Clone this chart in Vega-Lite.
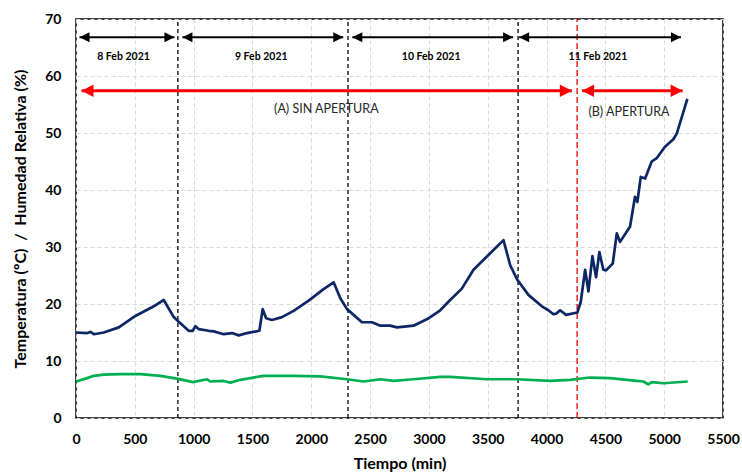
{
  "$schema": "https://vega.github.io/schema/vega-lite/v6.json",
  "width": 647,
  "height": 399,
  "autosize": {"type": "none"},
  "padding": {"left": 76, "top": 19, "right": 19, "bottom": 56},
  "background": "white",
  "config": {"view": {"stroke": "#000", "strokeWidth": 1.5}, "font": "Lato"},
  "encoding": {
    "x": {
      "field": "t", "type": "quantitative",
      "scale": {"domain": [0, 5500], "nice": false, "zero": false},
      "axis": {
        "values": [0, 500, 1000, 1500, 2000, 2500, 3000, 3500, 4000, 4500, 5000, 5500], "format": "d",
        "title": "Tiempo (min)", "grid": true, "gridColor": "#d9d9d9", "gridDash": [4, 3], "gridWidth": 1,
        "ticks": false, "domain": false, "labelFlush": false,
        "labelFont": "Lato", "labelFontWeight": "bold", "labelFontSize": 14, "labelColor": "#000", "labelPadding": 14,
        "titleFont": "Lato", "titleFontSize": 16, "titleFontWeight": "bold", "titleColor": "#000",
        "titleX": 323.5, "titleY": 45, "titleBaseline": "middle"
      }
    },
    "y": {
      "field": "v", "type": "quantitative",
      "scale": {"domain": [0, 70], "nice": false, "zero": false},
      "axis": {
        "values": [0, 10, 20, 30, 40, 50, 60, 70], "format": "d",
        "title": "Temperatura (ºC) \u00a0/ \u00a0Humedad Relativa (%)", "grid": true, "gridColor": "#d9d9d9", "gridDash": [4, 3], "gridWidth": 1,
        "ticks": false, "domain": false, "labelFlush": false,
        "labelFont": "Lato", "labelFontWeight": "bold", "labelFontSize": 14, "labelColor": "#000", "labelPadding": 15,
        "titleFont": "Lato", "titleFontSize": 16, "titleFontWeight": "bold", "titleColor": "#000",
        "titleX": -56, "titleY": 199.5, "titleBaseline": "middle"
      }
    }
  },
  "layer": [
    {
      "data": {"values": [
        {"t": 866, "v": 0, "v2": 70},
        {"t": 2312, "v": 0, "v2": 70},
        {"t": 3758, "v": 0, "v2": 70}
      ]},
      "mark": {"type": "rule", "color": "#000", "strokeWidth": 1.3, "strokeDash": [4, 3]},
      "encoding": {"y2": {"field": "v2"}}
    },
    {
      "data": {"values": [{"t": 4260, "v": 0, "v2": 70}]},
      "mark": {"type": "rule", "color": "#e00000", "strokeWidth": 1.3, "strokeDash": [6, 3]},
      "encoding": {"y2": {"field": "v2"}}
    },
    {
      "data": {"values": [
        {"serie": "Humedad Relativa (%)", "t": 2, "v": 15.0},
        {"serie": "Humedad Relativa (%)", "t": 95, "v": 14.9},
        {"serie": "Humedad Relativa (%)", "t": 123, "v": 15.1},
        {"serie": "Humedad Relativa (%)", "t": 151, "v": 14.7},
        {"serie": "Humedad Relativa (%)", "t": 236, "v": 15.0},
        {"serie": "Humedad Relativa (%)", "t": 364, "v": 15.9},
        {"serie": "Humedad Relativa (%)", "t": 505, "v": 17.9},
        {"serie": "Humedad Relativa (%)", "t": 661, "v": 19.6},
        {"serie": "Humedad Relativa (%)", "t": 746, "v": 20.7},
        {"serie": "Humedad Relativa (%)", "t": 831, "v": 17.7},
        {"serie": "Humedad Relativa (%)", "t": 873, "v": 16.9},
        {"serie": "Humedad Relativa (%)", "t": 958, "v": 15.3},
        {"serie": "Humedad Relativa (%)", "t": 992, "v": 15.3},
        {"serie": "Humedad Relativa (%)", "t": 1015, "v": 16.1},
        {"serie": "Humedad Relativa (%)", "t": 1043, "v": 15.6},
        {"serie": "Humedad Relativa (%)", "t": 1128, "v": 15.3},
        {"serie": "Humedad Relativa (%)", "t": 1171, "v": 15.2},
        {"serie": "Humedad Relativa (%)", "t": 1255, "v": 14.7},
        {"serie": "Humedad Relativa (%)", "t": 1327, "v": 14.9},
        {"serie": "Humedad Relativa (%)", "t": 1383, "v": 14.5},
        {"serie": "Humedad Relativa (%)", "t": 1454, "v": 14.9},
        {"serie": "Humedad Relativa (%)", "t": 1559, "v": 15.3},
        {"serie": "Humedad Relativa (%)", "t": 1587, "v": 19.1},
        {"serie": "Humedad Relativa (%)", "t": 1616, "v": 17.5},
        {"serie": "Humedad Relativa (%)", "t": 1666, "v": 17.2},
        {"serie": "Humedad Relativa (%)", "t": 1751, "v": 17.7},
        {"serie": "Humedad Relativa (%)", "t": 1850, "v": 18.8},
        {"serie": "Humedad Relativa (%)", "t": 1978, "v": 20.6},
        {"serie": "Humedad Relativa (%)", "t": 2105, "v": 22.6},
        {"serie": "Humedad Relativa (%)", "t": 2190, "v": 23.8},
        {"serie": "Humedad Relativa (%)", "t": 2247, "v": 21.0},
        {"serie": "Humedad Relativa (%)", "t": 2304, "v": 19.1},
        {"serie": "Humedad Relativa (%)", "t": 2431, "v": 16.8},
        {"serie": "Humedad Relativa (%)", "t": 2516, "v": 16.8},
        {"serie": "Humedad Relativa (%)", "t": 2587, "v": 16.2},
        {"serie": "Humedad Relativa (%)", "t": 2671, "v": 16.2},
        {"serie": "Humedad Relativa (%)", "t": 2728, "v": 15.9},
        {"serie": "Humedad Relativa (%)", "t": 2771, "v": 16.0},
        {"serie": "Humedad Relativa (%)", "t": 2869, "v": 16.2},
        {"serie": "Humedad Relativa (%)", "t": 2990, "v": 17.4},
        {"serie": "Humedad Relativa (%)", "t": 3096, "v": 18.9},
        {"serie": "Humedad Relativa (%)", "t": 3181, "v": 20.7},
        {"serie": "Humedad Relativa (%)", "t": 3280, "v": 22.7},
        {"serie": "Humedad Relativa (%)", "t": 3379, "v": 26.0},
        {"serie": "Humedad Relativa (%)", "t": 3506, "v": 28.6},
        {"serie": "Humedad Relativa (%)", "t": 3634, "v": 31.2},
        {"serie": "Humedad Relativa (%)", "t": 3691, "v": 26.8},
        {"serie": "Humedad Relativa (%)", "t": 3753, "v": 24.2},
        {"serie": "Humedad Relativa (%)", "t": 3846, "v": 21.6},
        {"serie": "Humedad Relativa (%)", "t": 3960, "v": 19.6},
        {"serie": "Humedad Relativa (%)", "t": 4016, "v": 18.9},
        {"serie": "Humedad Relativa (%)", "t": 4058, "v": 18.2},
        {"serie": "Humedad Relativa (%)", "t": 4081, "v": 18.3},
        {"serie": "Humedad Relativa (%)", "t": 4115, "v": 18.9},
        {"serie": "Humedad Relativa (%)", "t": 4166, "v": 18.1},
        {"serie": "Humedad Relativa (%)", "t": 4262, "v": 18.5},
        {"serie": "Humedad Relativa (%)", "t": 4291, "v": 20.4},
        {"serie": "Humedad Relativa (%)", "t": 4328, "v": 26.0},
        {"serie": "Humedad Relativa (%)", "t": 4356, "v": 22.2},
        {"serie": "Humedad Relativa (%)", "t": 4390, "v": 28.4},
        {"serie": "Humedad Relativa (%)", "t": 4421, "v": 24.7},
        {"serie": "Humedad Relativa (%)", "t": 4449, "v": 29.1},
        {"serie": "Humedad Relativa (%)", "t": 4483, "v": 26.0},
        {"serie": "Humedad Relativa (%)", "t": 4506, "v": 25.9},
        {"serie": "Humedad Relativa (%)", "t": 4563, "v": 27.1},
        {"serie": "Humedad Relativa (%)", "t": 4597, "v": 32.4},
        {"serie": "Humedad Relativa (%)", "t": 4625, "v": 30.9},
        {"serie": "Humedad Relativa (%)", "t": 4710, "v": 33.6},
        {"serie": "Humedad Relativa (%)", "t": 4752, "v": 38.8},
        {"serie": "Humedad Relativa (%)", "t": 4772, "v": 37.9},
        {"serie": "Humedad Relativa (%)", "t": 4801, "v": 42.3},
        {"serie": "Humedad Relativa (%)", "t": 4838, "v": 42.0},
        {"serie": "Humedad Relativa (%)", "t": 4894, "v": 45.0},
        {"serie": "Humedad Relativa (%)", "t": 4937, "v": 45.6},
        {"serie": "Humedad Relativa (%)", "t": 5007, "v": 47.6},
        {"serie": "Humedad Relativa (%)", "t": 5078, "v": 48.9},
        {"serie": "Humedad Relativa (%)", "t": 5107, "v": 49.9},
        {"serie": "Humedad Relativa (%)", "t": 5197, "v": 56.0},
        {"serie": "Temperatura (ºC)", "t": 2, "v": 6.4},
        {"serie": "Temperatura (ºC)", "t": 95, "v": 7.0},
        {"serie": "Temperatura (ºC)", "t": 151, "v": 7.4},
        {"serie": "Temperatura (ºC)", "t": 236, "v": 7.6},
        {"serie": "Temperatura (ºC)", "t": 378, "v": 7.7},
        {"serie": "Temperatura (ºC)", "t": 548, "v": 7.7},
        {"serie": "Temperatura (ºC)", "t": 718, "v": 7.4},
        {"serie": "Temperatura (ºC)", "t": 859, "v": 6.9},
        {"serie": "Temperatura (ºC)", "t": 995, "v": 6.3},
        {"serie": "Temperatura (ºC)", "t": 1114, "v": 6.8},
        {"serie": "Temperatura (ºC)", "t": 1142, "v": 6.4},
        {"serie": "Temperatura (ºC)", "t": 1255, "v": 6.5},
        {"serie": "Temperatura (ºC)", "t": 1312, "v": 6.2},
        {"serie": "Temperatura (ºC)", "t": 1397, "v": 6.7},
        {"serie": "Temperatura (ºC)", "t": 1595, "v": 7.4},
        {"serie": "Temperatura (ºC)", "t": 1850, "v": 7.4},
        {"serie": "Temperatura (ºC)", "t": 2077, "v": 7.3},
        {"serie": "Temperatura (ºC)", "t": 2304, "v": 6.8},
        {"serie": "Temperatura (ºC)", "t": 2445, "v": 6.4},
        {"serie": "Temperatura (ºC)", "t": 2587, "v": 6.8},
        {"serie": "Temperatura (ºC)", "t": 2700, "v": 6.5},
        {"serie": "Temperatura (ºC)", "t": 2869, "v": 6.8},
        {"serie": "Temperatura (ºC)", "t": 3096, "v": 7.2},
        {"serie": "Temperatura (ºC)", "t": 3181, "v": 7.2},
        {"serie": "Temperatura (ºC)", "t": 3493, "v": 6.8},
        {"serie": "Temperatura (ºC)", "t": 3748, "v": 6.8},
        {"serie": "Temperatura (ºC)", "t": 4030, "v": 6.5},
        {"serie": "Temperatura (ºC)", "t": 4200, "v": 6.7},
        {"serie": "Temperatura (ºC)", "t": 4370, "v": 7.1},
        {"serie": "Temperatura (ºC)", "t": 4540, "v": 7.0},
        {"serie": "Temperatura (ºC)", "t": 4767, "v": 6.5},
        {"serie": "Temperatura (ºC)", "t": 4823, "v": 6.4},
        {"serie": "Temperatura (ºC)", "t": 4865, "v": 5.9},
        {"serie": "Temperatura (ºC)", "t": 4894, "v": 6.3},
        {"serie": "Temperatura (ºC)", "t": 4993, "v": 6.1},
        {"serie": "Temperatura (ºC)", "t": 5200, "v": 6.4}
      ]},
      "mark": {"type": "line", "strokeWidth": 2.7, "strokeJoin": "round"},
      "encoding": {
        "color": {"field": "serie", "type": "nominal", "legend": null,
          "scale": {"domain": ["Humedad Relativa (%)", "Temperatura (ºC)"], "range": ["#0d2766", "#00b050"]}}
      }
    },
    {
      "data": {"values": [
        {"t": 30, "t2": 837, "v": 66.8},
        {"t": 905, "t2": 2272, "v": 66.8},
        {"t": 2349, "t2": 3716, "v": 66.8},
        {"t": 3767, "t2": 5143, "v": 66.8}
      ]},
      "layer": [
        {"mark": {"type": "rule", "color": "#000", "strokeWidth": 2}, "encoding": {"x2": {"field": "t2"}}},
        {"mark": {"type": "point", "shape": "M0,0L2,-1L2,1Z", "filled": true, "color": "#000", "opacity": 1, "size": 100}},
        {"mark": {"type": "point", "shape": "M0,0L-2,-1L-2,1Z", "filled": true, "color": "#000", "opacity": 1, "size": 100}, "encoding": {"x": {"field": "t2", "type": "quantitative"}}}
      ]
    },
    {
      "data": {"values": [
        {"t": 47, "t2": 4215, "v": 57.4},
        {"t": 4302, "t2": 5157, "v": 57.4}
      ]},
      "layer": [
        {"mark": {"type": "rule", "color": "#ff0000", "strokeWidth": 3}, "encoding": {"x2": {"field": "t2"}}},
        {"mark": {"type": "point", "shape": "M0,0L2,-1.05L2,1.05Z", "filled": true, "color": "#ff0000", "opacity": 1, "size": 144}},
        {"mark": {"type": "point", "shape": "M0,0L-2,-1.05L-2,1.05Z", "filled": true, "color": "#ff0000", "opacity": 1, "size": 144}, "encoding": {"x": {"field": "t2", "type": "quantitative"}}}
      ]
    },
    {
      "data": {"values": [
        {"t": 404, "v": 63.3, "label": "8 Feb 2021"},
        {"t": 1575, "v": 63.3, "label": "9 Feb 2021"},
        {"t": 3019, "v": 63.3, "label": "10 Feb 2021"},
        {"t": 4437, "v": 63.3, "label": "11 Feb 2021"}
      ]},
      "mark": {"type": "text", "font": "Lato", "fontSize": 10.5, "fontWeight": "bold", "color": "#000", "baseline": "middle", "align": "center"},
      "encoding": {"text": {"field": "label"}}
    },
    {
      "data": {"values": [
        {"t": 2128, "v": 54.2, "label": "(A) SIN APERTURA"},
        {"t": 4701, "v": 53.7, "label": "(B) APERTURA"}
      ]},
      "mark": {"type": "text", "font": "Lato", "fontSize": 12.5, "color": "#262626", "baseline": "middle", "align": "center"},
      "encoding": {"text": {"field": "label"}}
    }
  ]
}
